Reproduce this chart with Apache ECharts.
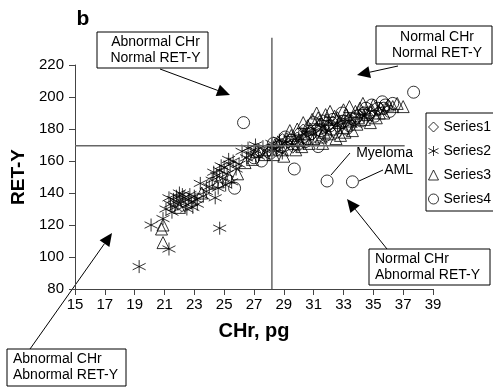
<!DOCTYPE html>
<html>
<head>
<meta charset="utf-8">
<script src="https://cdn.jsdelivr.net/npm/echarts@6/dist/echarts.min.js"></script>
<style>
html, body { margin: 0; padding: 0; background: #fff; }
#chart { width: 493px; height: 388px; }
</style>
</head>
<body>
<div id="chart"></div>
<script>
var seriesNames = ['Series1', 'Series2', 'Series3', 'Series4'];
var xTicks = [15, 17, 19, 21, 23, 25, 27, 29, 31, 33, 35, 37, 39];
var yTicks = [80, 100, 120, 140, 160, 180, 200, 220];

// [CHr, RET-Y]
var series1 = [[28.6,169],[29.3,171],[29.9,175],[30.6,178],[31.2,181],[31.8,180],[32.3,185],[32.9,183],
    [33.4,187],[34.1,189],[34.7,188],[35.3,191],[30.9,176],[28.0,166],[27.4,165],
    [29.6,168],[30.3,180],[31.5,184],[32.6,181],[33.8,185],[34.3,191],[35.8,193],[28.9,174]];
var series2 = [[19.3,94],[21.3,105],[20.1,120],[20.9,124],[21.1,130],[21.4,133],[21.6,136],[21.8,138],
    [21.9,133],[22.1,135],[22.3,137],[22.4,132],[22.6,136],[22.8,134],[23.0,138],[22.2,139],[21.7,131],
    [23.2,133],[22.5,130],[23.4,146],[24.4,137],[24.7,118],[23.8,141],[24.2,148],[24.5,151],[24.7,154],
    [24.9,149],[25.0,156],[25.2,152],[25.4,158],[25.1,145],[25.6,160],[25.8,155],[26.2,166],[26.5,162],
    [26.8,164],[27.0,167],[27.3,163],[27.6,169],[27.9,166],[28.2,171],[28.5,168],[28.9,165],[29.2,172],
    [29.6,170],[30.0,175],[30.5,178],[31.0,177],[31.5,181],[32.0,184],[32.6,182],[33.1,186],[26.0,158],[24.0,144],
    [21.5,128],[22.0,140],[22.7,139],[23.1,136],[21.3,137],[22.9,131],[24.3,153],[24.8,157],[25.3,161],
    [25.5,147],[24.6,143],[23.6,138],[27.1,170],[26.6,168],[28.7,173],[30.3,171],[31.8,178],[33.5,183],[34.4,188]];
var series3 = [[20.9,109],[20.8,117.5],[20.9,120],[22.0,131],[23.5,140],[24.6,147],[25.3,150],[25.9,152],
    [26.4,159],[26.9,161],[27.2,166],[27.7,164],[28.0,167],[28.4,170],[28.9,167],[29.2,174],[29.4,179],
    [29.7,171],[30.0,173],[30.3,184],[30.4,177],[30.8,180],[31.0,174],[31.2,190],[31.4,183],[31.7,178],
    [31.9,186],[32.2,180],[32.4,188],[32.7,184],[33.0,181],[33.2,189],[33.5,185],[33.8,191],[34.0,187],
    [34.3,196],[34.6,189],[34.9,192],[35.2,187],[35.5,193],[35.7,190],[36.0,195],[36.3,194],[37.0,194],
    [29.0,163],[30.2,169],[31.6,171],[32.8,176],[33.6,179],[34.8,184],
    [29.5,176],[29.9,180],[30.6,182],[30.9,186],[31.3,187],[31.8,189],[32.1,191],[32.6,187],[33.0,192],
    [33.4,194],[32.0,177],[32.5,174],[33.1,178],[33.9,183],[34.4,186],[35.0,195],[30.7,171],[29.8,167],
    [28.6,172],[28.3,164],[31.5,175],[34.1,193],[35.4,190],[36.6,196]];
var series4 = [[26.3,184],[31.9,147.5],[33.6,147],[29.7,155],[37.7,203],[24.2,146],[25.7,143],[27.5,160],
    [28.3,171],[28.8,169],[29.5,173],[30.1,177],[30.6,174],[31.3,169],[31.5,179],[32.1,182],[32.5,178],
    [33.0,185],[33.4,182],[33.9,188],[34.2,185],[34.7,190],[35.1,188],[35.6,197],[35.7,193],[36.1,191],
    [32.9,190],[31.0,184],[30.4,172],[34.5,193],
    [29.1,175],[29.9,170],[30.8,177],[31.8,176],[32.3,186],[33.2,180],[33.7,186],[34.4,190],[35.3,193],
    [36.3,196],[28.1,165],[27.0,162],[31.6,185],[34.9,195],[35.8,195]];

// cut-off lines
var cutCHr = 28.2;
var cutRET = 169.5;
var vLine = [[cutCHr, 80], [cutCHr, 237]];
var hLine = [[15, cutRET], [37.1, cutRET]];

var font = '"Liberation Sans", Arial, sans-serif';
var star = 'path://M5,0L5,10M0,2.5L10,7.5M0,7.5L10,2.5';

function pointStyle() {
    return {color: 'rgba(0,0,0,0)', borderColor: '#000', borderWidth: 1};
}

//箭头
function arrow(x1, y1, x2, y2) {
    var a = Math.atan2(y2 - y1, x2 - x1);
    var len = 13, w = 6;
    var bx = x2 - len * Math.cos(a), by = y2 - len * Math.sin(a);
    var px = -Math.sin(a) * w, py = Math.cos(a) * w;
    return [
        {type: 'line', shape: {x1: x1, y1: y1, x2: bx, y2: by}, style: {stroke: '#000', lineWidth: 1}},
        {type: 'polygon', shape: {points: [[x2, y2], [bx + px, by + py], [bx - px, by - py]]}, style: {fill: '#000'}}
    ];
}

function box(x, y, w, h, lines, align) {
    var items = [{type: 'rect', shape: {x: x, y: y, width: w, height: h},
        style: {fill: '#fff', stroke: '#000', lineWidth: 1}}];
    items.push({type: 'text', x: align === 'center' ? x + w / 2 + 3 : x + 6, y: y + h / 2,
        style: {text: lines.join('\n'), font: '14px ' + font, fill: '#000', lineHeight: 16,
            align: align === 'center' ? 'center' : 'left', verticalAlign: 'middle'}});
    return items;
}

var graphics = [].concat(
    [{type: 'text', x: 83, y: 19, style: {text: 'b', font: 'bold 21px ' + font, fill: '#000', align: 'center', verticalAlign: 'middle'}}],
    arrow(160, 69, 230, 95),
    arrow(398, 66, 357, 75),
    arrow(387, 249, 347, 199),
    arrow(30, 349, 112, 233),
    [
        {type: 'line', shape: {x1: 350, y1: 153, x2: 331, y2: 175}, style: {stroke: '#000', lineWidth: 1}},
        {type: 'line', shape: {x1: 383, y1: 170, x2: 359, y2: 181}, style: {stroke: '#000', lineWidth: 1}},
        {type: 'text', x: 413, y: 153, style: {text: 'Myeloma', font: '14px ' + font, fill: '#000', align: 'right', verticalAlign: 'middle'}},
        {type: 'text', x: 413, y: 170, style: {text: 'AML', font: '14px ' + font, fill: '#000', align: 'right', verticalAlign: 'middle'}}
    ],
    box(97, 32, 111, 36, ['Abnormal CHr', 'Normal RET-Y'], 'center'),
    box(376, 26, 116, 38, ['Normal CHr', 'Normal RET-Y'], 'center'),
    box(369, 249, 121, 36, ['Normal CHr', 'Abnormal RET-Y'], 'left'),
    box(7, 349, 119, 37, ['Abnormal CHr', 'Abnormal RET-Y'], 'left')
);

var myChart = echarts.init(document.getElementById('chart'), null, {renderer: 'canvas'});
var option = {
    backgroundColor: '#fff',
    animation: false,
    textStyle: {fontFamily: font},
    grid: {left: 75, right: 60, top: 65, bottom: 99},
    legend: {
        orient: 'vertical',
        left: 426, top: 113,
        data: seriesNames,
        borderColor: '#000', borderWidth: 1,
        padding: [7, 6, 5, 2],
        itemWidth: 10, itemHeight: 10, itemGap: 10,
        itemStyle: {borderWidth: 1},
        textStyle: {fontSize: 14, color: '#000', fontFamily: font}
    },
    xAxis: {
        type: 'value', min: xTicks[0], max: xTicks[xTicks.length - 1], interval: 2,
        name: 'CHr, pg', nameLocation: 'middle', nameGap: 32,
        nameTextStyle: {fontSize: 20, fontWeight: 'bold', color: '#000', fontFamily: font},
        axisLine: {lineStyle: {color: '#444', width: 1}},
        axisTick: {length: 6, lineStyle: {color: '#444'}},
        axisLabel: {fontSize: 15, color: '#000', margin: 8, fontFamily: font},
        splitLine: {show: false}
    },
    yAxis: {
        type: 'value', min: yTicks[0], max: yTicks[yTicks.length - 1], interval: 20,
        name: 'RET-Y', nameLocation: 'middle', nameGap: 43, nameRotate: 90,
        nameTextStyle: {fontSize: 19, fontWeight: 'bold', color: '#000', fontFamily: font},
        axisLine: {show: true, lineStyle: {color: '#444', width: 1}},
        axisTick: {show: true, length: 6, lineStyle: {color: '#444'}},
        axisLabel: {fontSize: 15, color: '#000', margin: 11, fontFamily: font},
        splitLine: {show: false}
    },
    series: [
        {name: 'cutV', type: 'line', data: vLine, symbol: 'none', clip: false, silent: true,
            lineStyle: {color: '#666', width: 1.5}},
        {name: 'cutH', type: 'line', data: hLine, symbol: 'none', clip: false, silent: true,
            lineStyle: {color: '#666', width: 1.5}},
        {name: 'Series1', type: 'scatter', symbol: 'diamond', symbolSize: 10, data: series1, itemStyle: pointStyle()},
        {name: 'Series2', type: 'scatter', symbol: star, symbolSize: 13, data: series2, itemStyle: pointStyle()},
        {name: 'Series3', type: 'scatter', symbol: 'triangle', symbolSize: 12, data: series3, itemStyle: pointStyle()},
        {name: 'Series4', type: 'scatter', symbol: 'circle', symbolSize: 12, data: series4, itemStyle: pointStyle()}
    ],
    graphic: graphics
};
myChart.setOption(option);
</script>
</body>
</html>
